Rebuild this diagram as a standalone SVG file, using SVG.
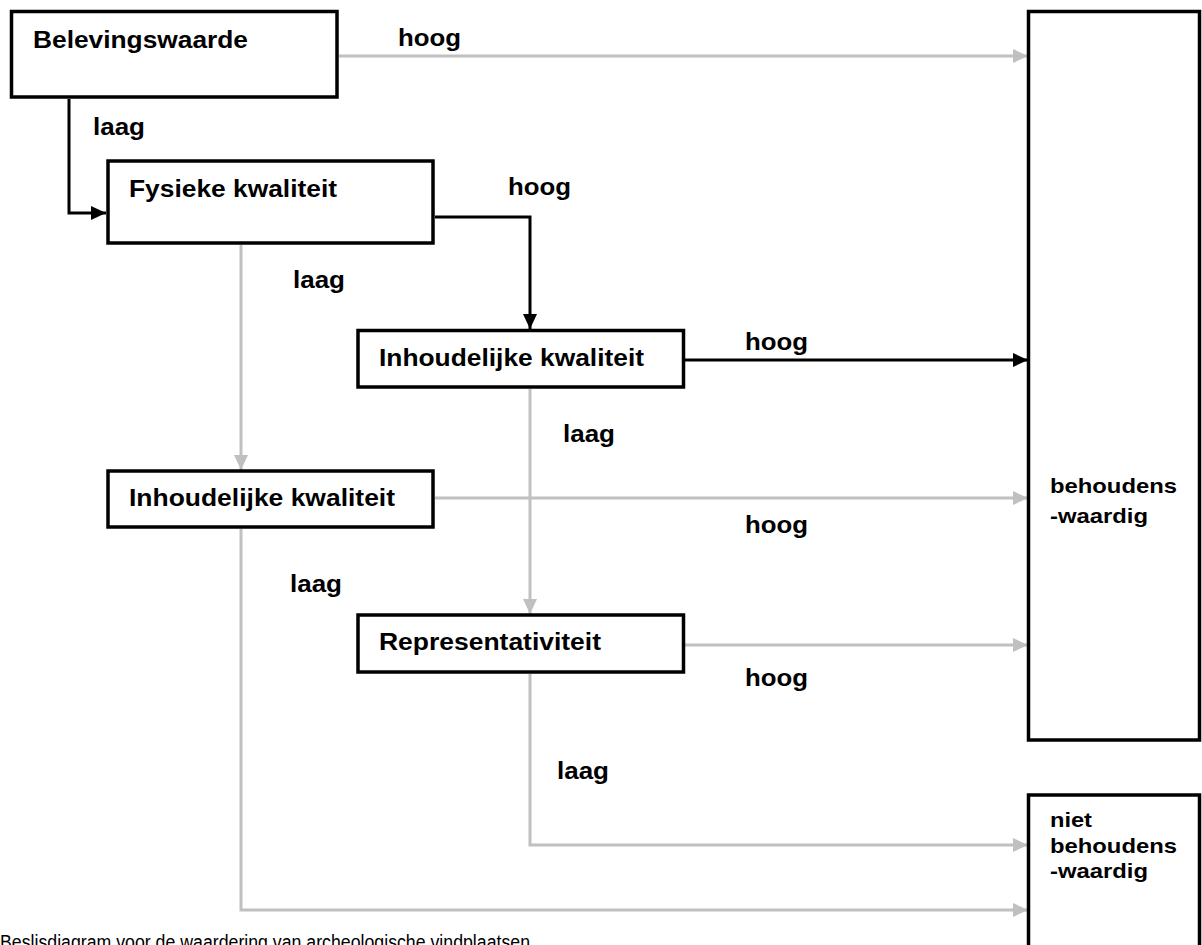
<svg xmlns="http://www.w3.org/2000/svg" width="1202" height="945" viewBox="0 0 1202 945">
<style>
.box{fill:#fff;stroke:#000;stroke-width:3.5}
.t{font-family:"Liberation Sans",Arial,sans-serif;font-weight:bold;font-size:23px;fill:#000}
.s{font-family:"Liberation Sans",Arial,sans-serif;font-weight:bold;font-size:21px;fill:#000}
.cap{font-family:"Liberation Sans",Arial,sans-serif;font-size:20px;fill:#000}
.k{fill:none;stroke:#000;stroke-width:3}
.g{fill:none;stroke:#c0c0c0;stroke-width:3}
</style>
<defs>
<marker id="ak" markerUnits="userSpaceOnUse" markerWidth="16" markerHeight="16" viewBox="0 0 16 16" refX="15" refY="8" orient="auto"><path d="M0,1 L15,8 L0,15 Z" fill="#000"/></marker>
<marker id="ag" markerUnits="userSpaceOnUse" markerWidth="16" markerHeight="16" viewBox="0 0 16 16" refX="15" refY="8" orient="auto"><path d="M0,1 L15,8 L0,15 Z" fill="#c0c0c0"/></marker>
</defs>
<rect width="1202" height="945" fill="#fff"/>
<g id="connectors">
<path class="g" d="M339,56 H1028" marker-end="url(#ag)"/>
<path class="k" d="M69,99 V213 H106" marker-end="url(#ak)"/>
<path class="k" d="M435,217 H530 V329" marker-end="url(#ak)"/>
<path class="g" d="M241,245 V470" marker-end="url(#ag)"/>
<path class="k" d="M685,360 H1028" marker-end="url(#ak)"/>
<path class="g" d="M530,389 V614" marker-end="url(#ag)"/>
<path class="g" d="M435,498 H1028" marker-end="url(#ag)"/>
<path class="g" d="M685,645 H1028" marker-end="url(#ag)"/>
<path class="g" d="M530,674 V845 H1028" marker-end="url(#ag)"/>
<path class="g" d="M241,529 V910 H1028" marker-end="url(#ag)"/>
</g>
<g id="labels">
<text class="t" x="398" y="46" textLength="63" lengthAdjust="spacingAndGlyphs">hoog</text>
<text class="t" x="93" y="135" textLength="52" lengthAdjust="spacingAndGlyphs">laag</text>
<text class="t" x="508" y="195" textLength="63" lengthAdjust="spacingAndGlyphs">hoog</text>
<text class="t" x="293" y="288" textLength="52" lengthAdjust="spacingAndGlyphs">laag</text>
<text class="t" x="745" y="350" textLength="63" lengthAdjust="spacingAndGlyphs">hoog</text>
<text class="t" x="563" y="442" textLength="52" lengthAdjust="spacingAndGlyphs">laag</text>
<text class="t" x="745" y="533" textLength="63" lengthAdjust="spacingAndGlyphs">hoog</text>
<text class="t" x="290" y="592" textLength="52" lengthAdjust="spacingAndGlyphs">laag</text>
<text class="t" x="745" y="686" textLength="63" lengthAdjust="spacingAndGlyphs">hoog</text>
<text class="t" x="557" y="779" textLength="52" lengthAdjust="spacingAndGlyphs">laag</text>
</g>
<g id="belevingswaarde">
<rect class="box" x="11.5" y="11.5" width="325.5" height="85.5"/>
<text class="t" x="33" y="48" textLength="215" lengthAdjust="spacingAndGlyphs">Belevingswaarde</text>
</g>
<g id="fysieke">
<rect class="box" x="108" y="161" width="325" height="82"/>
<text class="t" x="129" y="197" textLength="208" lengthAdjust="spacingAndGlyphs">Fysieke kwaliteit</text>
</g>
<g id="inhoudelijk1">
<rect class="box" x="358" y="330.5" width="325.5" height="56.5"/>
<text class="t" x="379" y="366" textLength="265" lengthAdjust="spacingAndGlyphs">Inhoudelijke kwaliteit</text>
</g>
<g id="inhoudelijk2">
<rect class="box" x="108" y="471" width="325" height="56"/>
<text class="t" x="129" y="506" textLength="266" lengthAdjust="spacingAndGlyphs">Inhoudelijke kwaliteit</text>
</g>
<g id="representativiteit">
<rect class="box" x="358" y="615" width="325.5" height="57"/>
<text class="t" x="379" y="650" textLength="222" lengthAdjust="spacingAndGlyphs">Representativiteit</text>
</g>
<g id="behoudenswaardig">
<rect class="box" x="1028.5" y="11.5" width="171" height="728.5"/>
<text class="s" x="1050" y="493" textLength="127" lengthAdjust="spacingAndGlyphs">behoudens</text>
<text class="s" x="1050" y="523" textLength="98" lengthAdjust="spacingAndGlyphs">-waardig</text>
</g>
<g id="niet-behoudenswaardig">
<rect class="box" x="1028.5" y="795" width="171" height="170"/>
<text class="s" x="1050" y="827" textLength="42" lengthAdjust="spacingAndGlyphs">niet</text>
<text class="s" x="1050" y="853" textLength="127" lengthAdjust="spacingAndGlyphs">behoudens</text>
<text class="s" x="1050" y="878" textLength="98" lengthAdjust="spacingAndGlyphs">-waardig</text>
</g>
<g id="caption">
<text class="cap" x="0" y="949" textLength="530" lengthAdjust="spacingAndGlyphs">Beslisdiagram voor de waardering van archeologische vindplaatsen</text>
</g>
</svg>
